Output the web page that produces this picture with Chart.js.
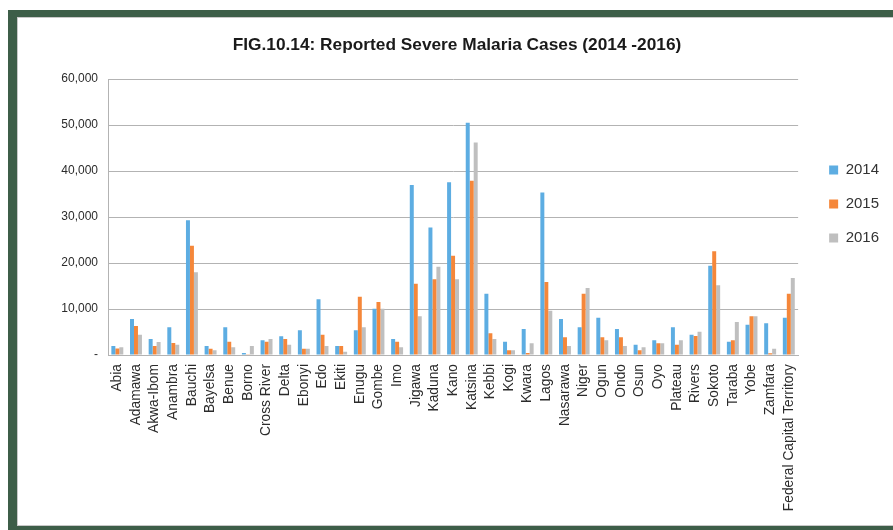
<!DOCTYPE html>
<html>
<head>
<meta charset="utf-8">
<script src="https://cdn.jsdelivr.net/npm/chart.js@4"></script>
<style>
  html, body { margin: 0; padding: 0; background: #ffffff; width: 893px; height: 530px; overflow: hidden; }
  #green { position: absolute; left: 8px; top: 10px; width: 900px; height: 530px; background: #3d5e48; }
  #inner { position: absolute; left: 17px; top: 17px; width: 900px; height: 509px; box-sizing: border-box; background: #ffffff; border: 1px solid #c8c8c8; }
  #wrap { position: absolute; left: 0; top: 0; width: 893px; height: 530px; }
</style>
</head>
<body>
<div id="green"></div>
<div id="inner"></div>
<div id="wrap"><canvas id="c" width="893" height="530"></canvas></div>
<script>
const categories = ["Abia","Adamawa","Akwa-Ibom","Anambra","Bauchi","Bayelsa","Benue","Borno","Cross River","Delta","Ebonyi","Edo","Ekiti","Enugu","Gombe","Imo","Jigawa","Kaduna","Kano","Katsina","Kebbi","Kogi","Kwara","Lagos","Nasarawa","Niger","Ogun","Ondo","Osun","Oyo","Plateau","Rivers","Sokoto","Taraba","Yobe","Zamfara","Federal Capital Territory"];
const cases2014 = [1960, 7830, 3480, 6010, 29280, 1960, 6010, 430, 3190, 4060, 5360, 12100, 1960, 5360, 10070, 3480, 36960, 27750, 37540, 50500, 13330, 2900, 5650, 35360, 7830, 6010, 8120, 5650, 2250, 3190, 6010, 4420, 19420, 2900, 6590, 6880, 8120];
const cases2015 = [1400, 6300, 1960, 2610, 23770, 1380, 2900, 150, 2900, 3480, 1380, 4420, 1960, 12680, 11520, 2900, 15510, 16450, 21590, 37900, 4710, 1010, 430, 15870, 3840, 13330, 3840, 3840, 1010, 2540, 2250, 4130, 22540, 3190, 8410, 360, 13330];
const cases2016 = [1670, 4420, 2830, 2250, 17970, 1010, 1670, 1960, 3480, 2250, 1380, 1960, 720, 6010, 10070, 1670, 8410, 19200, 16450, 46230, 3480, 1010, 2540, 9640, 1960, 14570, 3190, 1960, 1670, 2540, 3190, 5070, 15140, 7170, 8410, 1380, 16740];
const seriesLabels = ["2014", "2015", "2016"];
const yTicks = [0, 10000, 20000, 30000, 40000, 50000, 60000];
const titleText = "FIG.10.14: Reported Severe Malaria Cases (2014 -2016)";

const colors = ["#5DADE2", "#F5873A", "#BFBFBF"];
const PAD = {left: 37, right: 16, top: 0, bottom: 0};
const AREA = {left: 108, top: 79, bottom: 355};

const legendShift = {
  id: 'legendShift',
  afterLayout(chart) {
    const lg = chart.legend;
    if (lg) { lg.left += 12; lg.right += 12; lg.top -= 61; lg.bottom -= 61; }
  }
};

new Chart(document.getElementById('c'), {
  type: 'bar',
  data: {
    labels: categories,
    datasets: [
      {label: seriesLabels[0], data: cases2014, backgroundColor: colors[0]},
      {label: seriesLabels[1], data: cases2015, backgroundColor: colors[1]},
      {label: seriesLabels[2], data: cases2016, backgroundColor: colors[2]}
    ]
  },
  options: {
    responsive: false,
    animation: false,
    devicePixelRatio: 1,
    layout: {padding: PAD},
    datasets: {bar: {categoryPercentage: 0.64, barPercentage: 1.0}},
    plugins: {
      title: {
        display: true,
        text: titleText,
        color: '#1a1a1a',
        font: {family: "'Liberation Sans', Arial, sans-serif", size: 17.3, weight: 'bold'},
        padding: {top: 35, bottom: 23.3}
      },
      legend: {
        position: 'right',
        align: 'center',
        labels: {
          boxWidth: 9, boxHeight: 9, padding: 19, color: '#333333',
          font: {family: "'Liberation Sans', Arial, sans-serif", size: 15}
        }
      },
      tooltip: {enabled: false}
    },
    scales: {
      x: {
        grid: {display: false, drawTicks: false},
        border: {display: true, color: '#b3b3b3'},
        ticks: {
          autoSkip: false, minRotation: 90, maxRotation: 90, padding: 9,
          color: '#2b2b2b',
          font: {family: "'Liberation Sans', Arial, sans-serif", size: 13.8}
        },
        afterFit(scale) { scale.height = 530 - AREA.bottom - PAD.bottom; }
      },
      y: {
        min: 0, max: 60000,
        afterBuildTicks(scale) { scale.ticks = yTicks.map(v => ({value: v})); },
        grid: {color: '#b3b3b3', drawTicks: false, lineWidth: 1},
        border: {display: true, color: '#b3b3b3'},
        ticks: {
          padding: 10, color: '#2b2b2b',
          font: {family: "'Liberation Sans', Arial, sans-serif", size: 12},
          callback: v => v === 0 ? '-' : v.toLocaleString('en-US')
        },
        afterFit(scale) { scale.width = AREA.left - PAD.left; }
      }
    }
  },
  plugins: [legendShift]
});
</script>
</body>
</html>
